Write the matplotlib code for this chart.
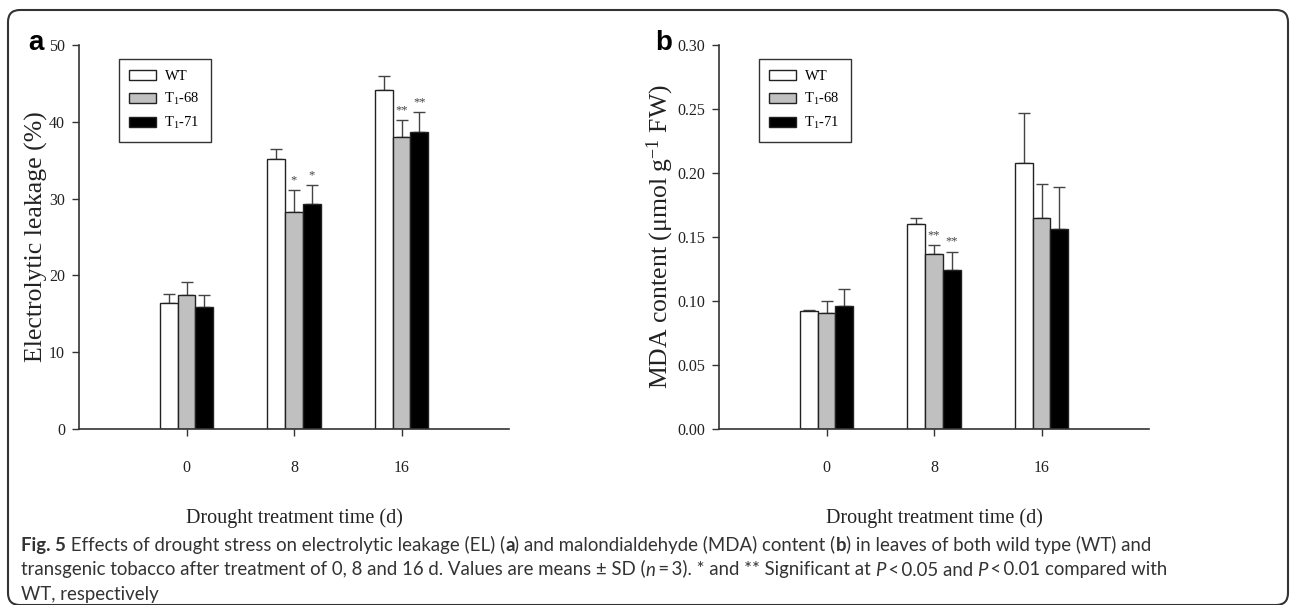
import matplotlib
matplotlib.use('Agg')
import matplotlib.pyplot as plt
import numpy as np
from matplotlib.patches import FancyBboxPatch
from matplotlib.transforms import IdentityTransform

# data (means, SD, significance marks)
days = ['0', '8', '16']
lines = ['WT', r'T$_1$-68', r'T$_1$-71']
fills = ['white', '#c0c0c0', 'black']

el_wt = [16.4, 35.1, 44.1]
el_t68 = [17.4, 28.2, 38.0]
el_t71 = [15.9, 29.3, 38.7]
el_wt_sd = [1.2, 1.4, 1.8]
el_t68_sd = [1.7, 2.9, 2.2]
el_t71_sd = [1.5, 2.4, 2.5]
el_t68_sig = ['', '*', '**']
el_t71_sig = ['', '*', '**']

mda_wt = [0.092, 0.160, 0.208]
mda_t68 = [0.091, 0.137, 0.165]
mda_t71 = [0.096, 0.124, 0.156]
mda_wt_sd = [0.001, 0.005, 0.039]
mda_t68_sd = [0.009, 0.0065, 0.026]
mda_t71_sd = [0.0135, 0.0145, 0.033]
mda_t68_sig = ['', '**', '']
mda_t71_sig = ['', '**', '']

serif = 'Liberation Serif'
plt.rcParams['font.family'] = [serif, 'DejaVu Serif']
plt.rcParams['mathtext.fontset'] = 'custom'
plt.rcParams['mathtext.rm'] = serif
plt.rcParams['mathtext.it'] = serif
plt.rcParams['mathtext.default'] = 'rm'

W, H = 1290, 605
fig = plt.figure(figsize=(W / 100, H / 100), dpi=100)

ink = '#222222'


def panel(left, means, sds, sigs, ymax, yticks, fmt, ylabel, letter, letter_x, ylab_x):
    ax = fig.add_axes([left / W, (H - 429.3) / H, 430 / W, 384.6 / H])
    x = np.arange(len(days))
    w = 1 / 6
    for i in range(3):
        xs = x + (i - 1) * w
        ax.bar(xs, means[i], w, color=fills[i], edgecolor=ink, linewidth=1,
               label=lines[i], zorder=2)
        ax.errorbar(xs, means[i], yerr=[np.zeros(3), sds[i]], fmt='none',
                    ecolor='#444444', elinewidth=1, capsize=4, capthick=1, zorder=1)
        if sigs[i] is not None:
            for xx, m, s, t in zip(xs, means[i], sds[i], sigs[i]):
                if t:
                    ax.annotate(t, (xx, m + s), xytext=(0, 3), textcoords='offset points',
                                ha='center', va='bottom', fontsize=9, color='#444444')
    ax.set_xlim(-1, 3)
    ax.set_ylim(0, ymax)
    ax.set_xticks(x)
    ax.set_xticklabels(days)
    ax.set_yticks(yticks)
    ax.set_yticklabels([fmt % v for v in yticks])
    for s in ['top', 'right']:
        ax.spines[s].set_visible(False)
    for s in ['left', 'bottom']:
        ax.spines[s].set_color('#333333')
        ax.spines[s].set_linewidth(1.2)
    ax.tick_params(direction='out', length=5, width=1, colors='#333333',
                   labelsize=11.5, labelcolor=ink, pad=5)
    ax.tick_params(axis='x', pad=17)
    ax.set_xlabel('Drought treatment time (d)', fontsize=14.5, color=ink, va='top')
    ax.xaxis.set_label_coords(0.5, -0.205)
    ax.set_ylabel(ylabel, fontsize=18.5, color=ink, va='bottom')
    ax.yaxis.set_label_coords(ylab_x, 0.5)
    leg = ax.legend(loc='upper left', bbox_to_anchor=(0.092, 0.9636), borderaxespad=0,
                    fontsize=10.5, frameon=True, fancybox=False, edgecolor='black',
                    handlelength=1.85, handleheight=0.7, handletextpad=0.55,
                    labelspacing=0.55, borderpad=0.75)
    leg.get_frame().set_linewidth(1)
    fig.text(letter_x, H - 50, letter, transform=IdentityTransform(), fontsize=20,
             fontweight='bold', family='Liberation Sans', color='black', va='baseline')
    return ax


panel(79, [el_wt, el_t68, el_t71], [el_wt_sd, el_t68_sd, el_t71_sd],
      [None, el_t68_sig, el_t71_sig], 50, [0, 10, 20, 30, 40, 50], '%d',
      'Electrolytic leakage (%)', 'a', 28, -0.072)
panel(719, [mda_wt, mda_t68, mda_t71], [mda_wt_sd, mda_t68_sd, mda_t71_sd],
      [None, mda_t68_sig, mda_t71_sig], 0.30, [0, 0.05, 0.10, 0.15, 0.20, 0.25, 0.30], '%.2f',
      r'MDA content ($\mu$mol g$^{-1}$ FW)', 'b', 655, -0.1)

# rounded frame around the figure
frame = FancyBboxPatch((8, 0), 1280, 595, boxstyle='round,pad=0,rounding_size=12',
                       transform=IdentityTransform(), facecolor='none',
                       edgecolor='#333333', linewidth=1.5)
fig.add_artist(frame)

# caption with mixed bold / italic runs
cap_font = ['Lato', 'DejaVu Sans']
cap_size = 13.4
caption = [
    [('Fig. 5', 'bold', 'normal'),
     (' Effects of drought stress on electrolytic leakage (EL) (', 'normal', 'normal'),
     ('a', 'bold', 'normal'),
     (') and malondialdehyde (MDA) content (', 'normal', 'normal'),
     ('b', 'bold', 'normal'),
     (') in leaves of both wild type (WT) and', 'normal', 'normal')],
    [('transgenic tobacco after treatment of 0, 8 and 16 d. Values are means \u00b1 SD (', 'normal', 'normal'),
     ('n', 'normal', 'italic'),
     ('\u2009=\u20093). * and ** Significant at ', 'normal', 'normal'),
     ('P', 'normal', 'italic'),
     ('\u2009<\u20090.05 and ', 'normal', 'normal'),
     ('P', 'normal', 'italic'),
     ('\u2009<\u20090.01 compared with', 'normal', 'normal')],
    [('WT, respectively', 'normal', 'normal')],
]
renderer = fig.canvas.get_renderer()
y0 = H - 551
for k, runs in enumerate(caption):
    xpos = 21
    for txt, wt, st in runs:
        t = fig.text(xpos, y0 - 24.5 * k, txt, transform=IdentityTransform(), fontsize=cap_size,
                     fontweight=wt, fontstyle=st, family=cap_font, color='#333333',
                     va='baseline')
        xpos += t.get_window_extent(renderer).width

fig.savefig('out.png', dpi=100)
